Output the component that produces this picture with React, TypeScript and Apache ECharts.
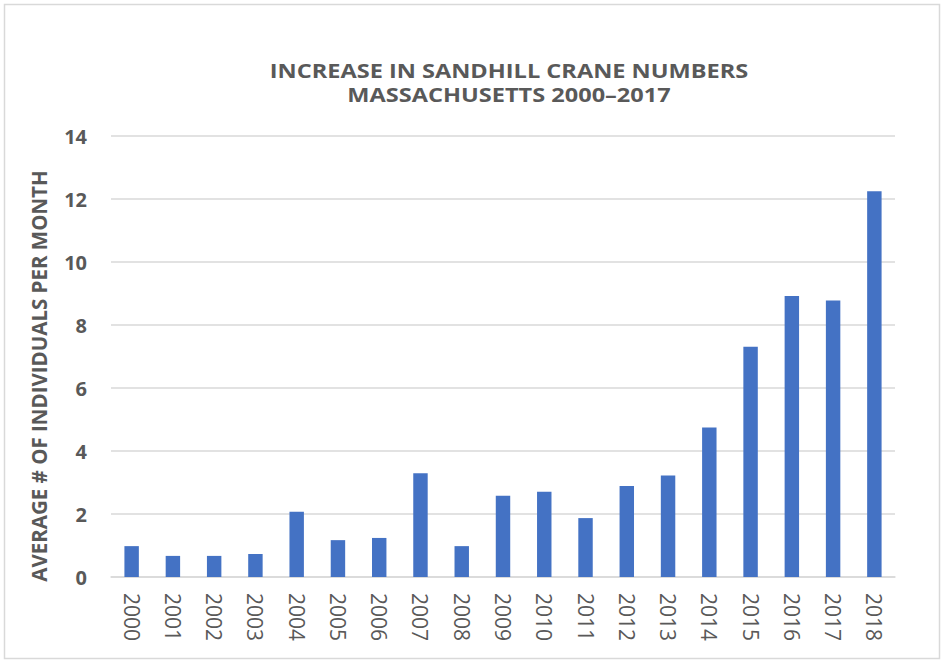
import React, { useEffect, useRef } from "react";
import * as echarts from "echarts";

const years = ["2000","2001","2002","2003","2004","2005","2006","2007","2008","2009","2010","2011","2012","2013","2014","2015","2016","2017","2018"];
const averages = [0.98,0.67,0.67,0.73,2.07,1.17,1.24,3.29,0.98,2.58,2.71,1.87,2.89,3.22,4.75,7.31,8.92,8.78,12.25];
const titleLines = ["INCREASE IN SANDHILL CRANE NUMBERS", "MASSACHUSETTS 2000–2017"];
const yAxisTitle = "AVERAGE # OF INDIVIDUALS PER MONTH";

const FONT = "'Open Sans', sans-serif";
const GRAY = "#595959";

export default function App() {
  const ref = useRef<HTMLDivElement>(null);
  useEffect(() => {
    const chart = echarts.init(ref.current!, null, { renderer: "svg" });
    const titleStyle = {
      fontFamily: FONT,
      fontSize: 19,
      fontWeight: "bold",
      fill: GRAY,
      align: "center",
      verticalAlign: "middle",
    };
    chart.setOption({
      animation: false,
      backgroundColor: "#fff",
      graphic: [
        {
          type: "rect",
          shape: { x: 4.5, y: 4.5, width: 935, height: 654 },
          style: { fill: "none", stroke: "#d9d9d9", lineWidth: 1.5 },
          silent: true,
        },
        {
          type: "text",
          x: 509,
          y: 70,
          scaleX: 1.24,
          style: { ...titleStyle, text: titleLines[0] },
        },
        {
          type: "text",
          x: 509,
          y: 94,
          scaleX: 1.24,
          style: { ...titleStyle, text: titleLines[1] },
        },
        {
          type: "text",
          x: 39,
          y: 376,
          rotation: Math.PI / 2,
          style: {
            text: yAxisTitle,
            fontFamily: FONT,
            fontSize: 20.5,
            fontWeight: "bold",
            fill: GRAY,
            align: "center",
            verticalAlign: "middle",
          },
        },
      ],
      grid: { left: 111, right: 46, top: 136, bottom: 84, containLabel: false },
      xAxis: {
        type: "category",
        data: years,
        axisLine: { lineStyle: { color: "#d9d9d9", width: 1.5 } },
        axisTick: { show: false },
        axisLabel: {
          rotate: -90,
          margin: 16,
          fontFamily: FONT,
          fontSize: 21,
          color: GRAY,
        },
      },
      yAxis: {
        type: "value",
        min: 0,
        max: 14,
        interval: 2,
        axisLine: { show: false },
        axisTick: { show: false },
        splitLine: { lineStyle: { color: "#d9d9d9", width: 1.5 } },
        axisLabel: {
          margin: 24,
          fontFamily: FONT,
          fontSize: 20,
          fontWeight: "bold",
          color: GRAY,
        },
      },
      series: [
        {
          type: "bar",
          data: averages,
          barWidth: "35%",
          itemStyle: { color: "#4472C4" },
        },
      ],
    });
    return () => chart.dispose();
  }, []);
  return <div ref={ref} style={{ width: 941, height: 661, position: "absolute", left: 0, top: 0 }} />;
}
